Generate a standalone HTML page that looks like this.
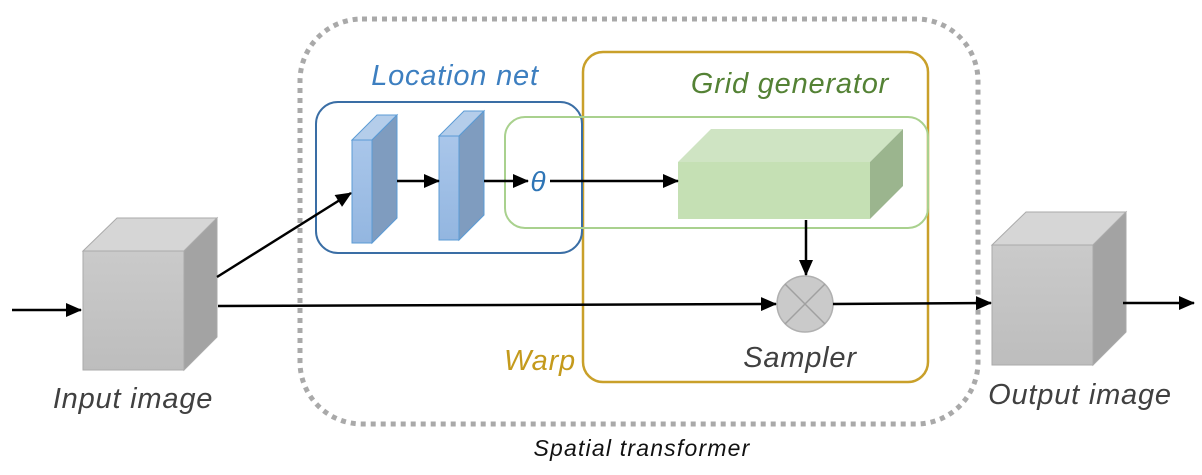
<!DOCTYPE html>
<html><head><meta charset="utf-8"><style>
html,body{margin:0;padding:0;background:#fff;}
svg{display:block;}
text{font-family:"Liberation Sans",Arial,sans-serif;font-style:italic;}
</style></head><body>
<svg width="1202" height="475" viewBox="0 0 1202 475" xmlns="http://www.w3.org/2000/svg">
<defs>
<marker id="ah" markerWidth="16" markerHeight="14" refX="15" refY="7" orient="auto" markerUnits="userSpaceOnUse" viewBox="0 0 16 14">
<path d="M0,0 L16,7 L0,14 z" fill="#000"/></marker>
<linearGradient id="gf" x1="0" y1="0" x2="0" y2="1"><stop offset="0" stop-color="#cacaca"/><stop offset="1" stop-color="#bdbdbd"/></linearGradient>
<linearGradient id="bf" x1="0" y1="0" x2="0" y2="1"><stop offset="0" stop-color="#a9c6ea"/><stop offset="1" stop-color="#93b6e0"/></linearGradient>
</defs>
<rect x="300" y="19" width="678" height="405" rx="62" fill="none" stroke="#a9a9a9" stroke-width="5" stroke-dasharray="5 5"/>
<rect x="583" y="52" width="345" height="330" rx="20" fill="none" stroke="#c9a02a" stroke-width="2.5"/>
<rect x="316" y="102" width="266" height="151" rx="22" fill="none" stroke="#3a6ea5" stroke-width="2"/>
<rect x="505" y="117" width="423" height="111" rx="20" fill="none" stroke="#a9d18e" stroke-width="2"/>
<polygon points="83,251 117,218 217,218 184,251" fill="#d6d6d6" stroke="#aaa"/>
<polygon points="184,251 217,218 217,337 184,370" fill="#a3a3a3" stroke="#aaa"/>
<rect x="83" y="251" width="101" height="119" fill="url(#gf)" stroke="#aaa"/>
<polygon points="992,245 1026,212 1126,212 1093,245" fill="#d6d6d6" stroke="#aaa"/>
<polygon points="1093,245 1126,212 1126,332 1093,365" fill="#a3a3a3" stroke="#aaa"/>
<rect x="992" y="245" width="101" height="120" fill="url(#gf)" stroke="#aaa"/>
<polygon points="352,140 377,115 397,115 372,140" fill="#b4cdea" stroke="#5b9bd5"/>
<polygon points="372,140 397,115 397,218 372,243" fill="#7f9cbf" stroke="#5b9bd5"/>
<rect x="352" y="140" width="20" height="103" fill="url(#bf)" stroke="#5b9bd5"/>
<polygon points="439,136 464,111 484,111 459,136" fill="#b4cdea" stroke="#5b9bd5"/>
<polygon points="459,136 484,111 484,215 459,240" fill="#7f9cbf" stroke="#5b9bd5"/>
<rect x="439" y="136" width="20" height="104" fill="url(#bf)" stroke="#5b9bd5"/>
<polygon points="678,162 711,129 903,129 870,162" fill="#cfe4c3"/>
<polygon points="870,162 903,129 903,186 870,219" fill="#9bb58e"/>
<rect x="678" y="162" width="192" height="57" fill="#c5e0b4"/>
<circle cx="805" cy="304" r="28" fill="#cacaca" stroke="#b0b0b0" stroke-width="1.5"/>
<line x1="785" y1="284" x2="825" y2="324" stroke="#a0a0a0" stroke-width="1.5"/>
<line x1="825" y1="284" x2="785" y2="324" stroke="#a0a0a0" stroke-width="1.5"/>
<g stroke="#000" stroke-width="2.5" fill="none">
<line x1="12" y1="310" x2="81" y2="310" marker-end="url(#ah)"/>
<line x1="218" y1="306" x2="776" y2="304" marker-end="url(#ah)"/>
<line x1="217" y1="277" x2="351" y2="193" marker-end="url(#ah)"/>
<line x1="397" y1="181" x2="439" y2="181" marker-end="url(#ah)"/>
<line x1="484" y1="181" x2="528" y2="181" marker-end="url(#ah)"/>
<line x1="550" y1="181" x2="678" y2="181" marker-end="url(#ah)"/>
<line x1="806" y1="220" x2="806" y2="275" marker-end="url(#ah)"/>
<line x1="833" y1="304" x2="991" y2="303" marker-end="url(#ah)"/>
<line x1="1123" y1="303" x2="1194" y2="303" marker-end="url(#ah)"/>
</g>
<text x="455" y="85" font-size="29" letter-spacing="0.8" fill="#3d7fc0" text-anchor="middle">Location net</text>
<text x="790" y="93" font-size="29" letter-spacing="0.8" fill="#548235" text-anchor="middle">Grid generator</text>
<text x="538" y="191" font-size="28" fill="#2e75b6" text-anchor="middle" font-family="DejaVu Sans">θ</text>
<text x="540" y="370" font-size="29" letter-spacing="0.8" fill="#c49a1c" text-anchor="middle">Warp</text>
<text x="800" y="367" font-size="29" letter-spacing="0.8" fill="#404040" text-anchor="middle">Sampler</text>
<text x="133" y="408" font-size="29" letter-spacing="0.8" fill="#404040" text-anchor="middle">Input image</text>
<text x="1080" y="404" font-size="29" letter-spacing="0.8" fill="#404040" text-anchor="middle">Output image</text>
<text x="642" y="456" font-size="23" letter-spacing="1.2" fill="#111" text-anchor="middle">Spatial transformer</text>
</svg>
</body></html>
